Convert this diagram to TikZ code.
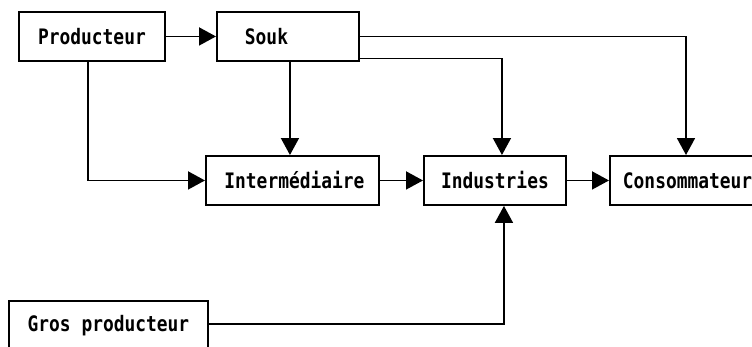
\documentclass[tikz,border=0pt]{standalone}
\usepackage{fontspec}
\newfontfamily\lblfont[FakeStretch=0.84]{DejaVu Sans Mono}
\usetikzlibrary{arrows.meta}
\begin{document}
\begin{tikzpicture}[x=1pt,y=-1pt,
  box/.style={draw, line width=1.9pt, inner sep=0pt, anchor=north west, font=\lblfont\bfseries\fontsize{21.3}{25}\selectfont},
  conn/.style={line width=1.8pt, -{Triangle[length=17pt,width=18pt]}}]
\clip (0,0) rectangle (752,346);
\useasboundingbox (0,0) rectangle (752,346);
\fill[white] (0,0) rectangle (752,346);
\node[box, minimum width=146pt, minimum height=49pt] (prod) at (18,11) {Producteur};
\node[box, minimum width=142pt, minimum height=49pt, text width=122pt, align=left] (souk) at (216,11) {\hspace*{18pt}Souk};
\node[box, minimum width=173pt, minimum height=49pt] (inter) at (205,155) {\hspace*{4pt}Intermédiaire};
\node[box, minimum width=142pt, minimum height=49pt] (ind) at (423,155) {Industries};
\node[box, minimum width=170pt, minimum height=49pt, text width=160pt, align=left] (conso) at (609,155) {\hspace*{8pt}Consommateur};
\node[box, minimum width=199pt, minimum height=50pt] (gros) at (8,300) {Gros producteur};
\draw[conn] (prod.east) -- (souk.west);
\draw[conn] ([xshift=-4pt]prod.south) |- (inter.west);
\draw[conn] ([xshift=2pt]souk.south) -- ([xshift=2pt]souk.south |- inter.north);
\draw[conn] ([yshift=-22pt]souk.east) -| ([xshift=7pt]ind.north);
\draw[conn] (souk.east) -| ([xshift=77pt]conso.north west);
\draw[conn] (inter.east) -- (ind.west);
\draw[conn] (ind.east) -- (conso.west);
\draw[conn] ([yshift=2pt]gros.east) -| ([xshift=9pt]ind.south);
\end{tikzpicture}
\end{document}
